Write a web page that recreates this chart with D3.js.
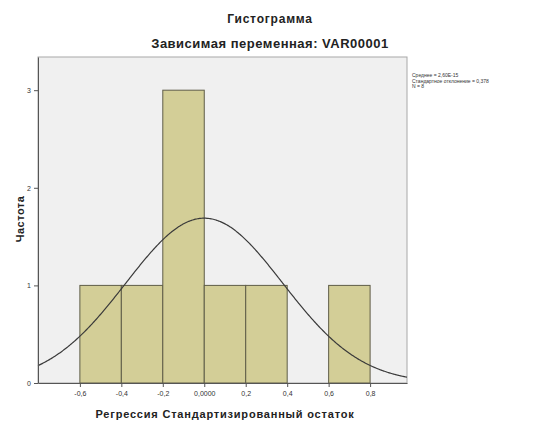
<!DOCTYPE html>
<html>
<head>
<meta charset="utf-8">
<script src="https://cdn.jsdelivr.net/npm/d3@7"></script>
<style>
  body { margin: 0; background: #fff; }
  text { font-family: "Liberation Sans", Arial, sans-serif; }
</style>
</head>
<body>
<script>
// histogram bins (lower edge, upper edge, count)
var binStart = [-0.6, -0.4, -0.2, 0.0, 0.2, 0.6]
var binEnd   = [-0.4, -0.2, 0.0, 0.2, 0.4, 0.8]
var counts   = [1, 1, 3, 1, 1, 1]
var xTicks = [-0.6, -0.4, -0.2, 0.0, 0.2, 0.4, 0.6, 0.8]
var xTickLabels = ['-0,6', '-0,4', '-0,2', '0,0000', '0,2', '0,4', '0,6', '0,8']
var yTicks = [0, 1, 2, 3]
var stats = ['Среднее = 2,60E-15', 'Стандартное отклонение = 0,378', 'N = 8']
var mean = 0, sd = 0.378, n = 8, binWidth = 0.2

var width = 533, height = 421
var plotLeft = 38, plotRight = 407, plotTop = 57, plotBottom = 383

var svg = d3.select('body').append('svg')
    .attr('width', width)
    .attr('height', height)

var x = d3.scaleLinear().domain([-0.802, 0.978]).range([plotLeft, plotRight])
var y = d3.scaleLinear().domain([0, 3.34]).range([plotBottom, plotTop])

// plot background
svg.append('rect')
    .attr('x', plotLeft).attr('y', plotTop)
    .attr('width', plotRight - plotLeft).attr('height', plotBottom - plotTop)
    .attr('fill', '#f0f0f0')
    .attr('stroke', '#a8a8a8')

// bars
svg.append('g').selectAll('rect')
    .data(counts)
    .enter()
    .append('rect')
    .attr('x', (d, i) => x(binStart[i]))
    .attr('y', d => y(d))
    .attr('width', (d, i) => x(binEnd[i]) - x(binStart[i]))
    .attr('height', d => plotBottom - y(d))
    .attr('fill', '#d3ce97')
    .attr('stroke', '#5f5d48')
    .attr('stroke-width', 1)

// normal curve
var curveX = d3.range(-0.802, 0.979, 0.005)
var line = d3.line()
    .x(d => x(d))
    .y(d => y(n * binWidth * Math.exp(-0.5 * Math.pow((d - mean) / sd, 2)) / (sd * Math.sqrt(2 * Math.PI))))
    .curve(d3.curveBasis)
svg.append('path')
    .datum(curveX)
    .attr('d', line)
    .attr('fill', 'none')
    .attr('stroke', '#3a3a3a')
    .attr('stroke-width', 1.2)

// axes
var xAxis = d3.axisBottom(x)
    .tickValues(xTicks)
    .tickFormat((d, i) => xTickLabels[i])
    .tickSize(4)
    .tickSizeOuter(0)
var gx = svg.append('g')
    .attr('transform', 'translate(0,' + plotBottom + ')')
    .call(xAxis)
gx.select('.domain').attr('stroke', '#555')
gx.selectAll('line').attr('stroke', '#555')
gx.selectAll('text').attr('font-size', 7).attr('fill', '#333').attr('dy', '0.9em')

var yAxis = d3.axisLeft(y)
    .tickValues(yTicks)
    .tickFormat(d3.format('d'))
    .tickSize(4)
    .tickSizeOuter(0)
var gy = svg.append('g')
    .attr('transform', 'translate(' + plotLeft + ',0)')
    .call(yAxis)
gy.select('.domain').attr('stroke', '#555')
gy.selectAll('line').attr('stroke', '#555')
gy.selectAll('text').attr('font-size', 7).attr('fill', '#333')

// titles
svg.append('text')
    .attr('x', 270).attr('y', 23)
    .attr('text-anchor', 'middle')
    .attr('font-size', 12).attr('font-weight', 'bold').attr('fill', '#222')
    .attr('letter-spacing', 0.8)
    .text('Гистограмма')
svg.append('text')
    .attr('x', 270).attr('y', 48)
    .attr('text-anchor', 'middle')
    .attr('font-size', 13).attr('font-weight', 'bold').attr('fill', '#222')
    .attr('letter-spacing', 0.5)
    .text('Зависимая переменная: VAR00001')
svg.append('text')
    .attr('x', 225).attr('y', 418)
    .attr('text-anchor', 'middle')
    .attr('font-size', 11).attr('font-weight', 'bold').attr('fill', '#222')
    .attr('letter-spacing', 0.8)
    .text('Регрессия Стандартизированный остаток')
svg.append('text')
    .attr('transform', 'translate(24,' + 219 + ') rotate(-90)')
    .attr('text-anchor', 'middle')
    .attr('font-size', 11).attr('font-weight', 'bold').attr('fill', '#222')
    .attr('letter-spacing', 0.5)
    .text('Частота')

// stats legend
svg.append('g').selectAll('text')
    .data(stats)
    .enter()
    .append('text')
    .attr('x', 412)
    .attr('y', (d, i) => 77 + i * 5.5)
    .attr('font-size', 5)
    .attr('fill', '#333')
    .text(d => d)
</script>
</body>
</html>
